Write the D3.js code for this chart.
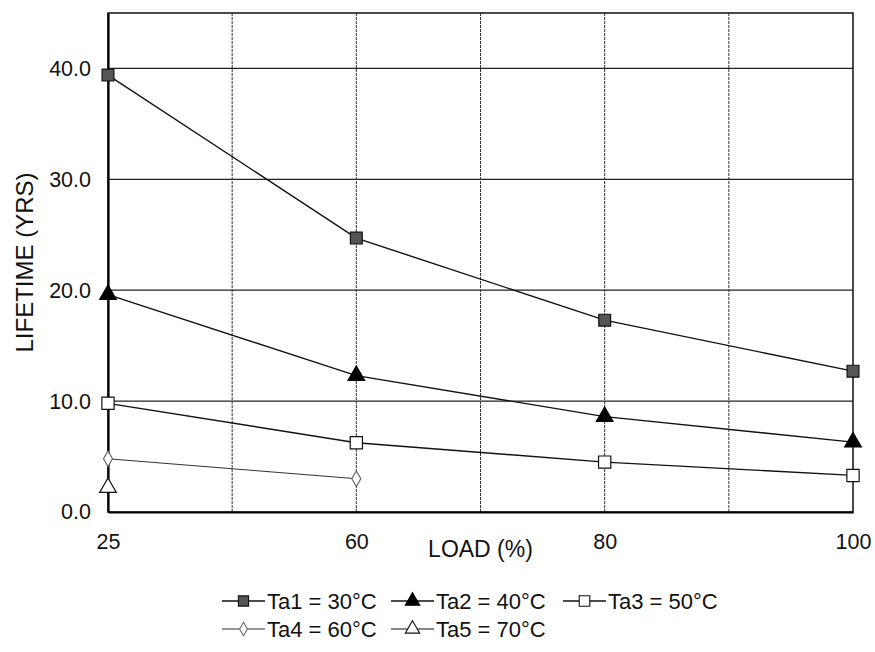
<!DOCTYPE html>
<html>
<head>
<meta charset="utf-8">
<script src="https://cdn.jsdelivr.net/npm/d3@7"></script>
<style>
  body { margin: 0; background: #fff; }
  svg { display: block; font-family: Arial, "Liberation Sans", sans-serif; }
</style>
</head>
<body>
<script>
// Chart data
var loads  = ["25", "60", "80", "100"];
var yTicks = [0, 10, 20, 30, 40];
var seriesNames = ["Ta1 = 30\u00b0C", "Ta2 = 40\u00b0C", "Ta3 = 50\u00b0C", "Ta4 = 60\u00b0C", "Ta5 = 70\u00b0C"];
var ta1 = [39.4, 24.7, 17.3, 12.7];
var ta2 = [19.6, 12.3, 8.6, 6.3];
var ta3 = [9.8, 6.25, 4.5, 3.3];
var ta4 = [4.8, 3.0, null, null];
var ta5 = [2.2, null, null, null];

var W = 875, H = 652;
var plot = { left: 108, right: 853, top: 13, bottom: 512 };

var svg = d3.select("body").append("svg").attr("width", W).attr("height", H);

var x = d3.scalePoint().domain(loads).range([plot.left, plot.right]);
var y = d3.scaleLinear().domain([0, 45]).range([plot.bottom, plot.top]);

// Grid: horizontal at ticks, vertical at categories and halfway between them
var grid = svg.append("g");
grid.selectAll("line.h").data(yTicks.filter(function(d){ return d > 0; }))
  .enter().append("line")
  .attr("x1", plot.left).attr("x2", plot.right)
  .attr("y1", function(d){ return y(d); }).attr("y2", function(d){ return y(d); })
  .attr("stroke", "#222").attr("stroke-width", 1.2);

var vLines = [];
loads.forEach(function(c, i){
  if(i > 0) vLines.push((x(loads[i-1]) + x(c)) / 2);
  if(i > 0 && i < loads.length - 1) vLines.push(x(c));
});
grid.selectAll("line.v").data(vLines)
  .enter().append("line")
  .attr("x1", function(d){ return d; }).attr("x2", function(d){ return d; })
  .attr("y1", plot.top).attr("y2", plot.bottom)
  .attr("stroke", "#333").attr("stroke-width", 1).attr("stroke-dasharray", "3,1");

// Frame
svg.append("rect")
  .attr("x", plot.left).attr("y", plot.top)
  .attr("width", plot.right - plot.left).attr("height", plot.bottom - plot.top)
  .attr("fill", "none").attr("stroke", "#111").attr("stroke-width", 1.5);

// Axes
var yAxis = svg.append("g").attr("transform", "translate(" + plot.left + ",0)")
  .call(d3.axisLeft(y).tickValues(yTicks).tickFormat(d3.format(".1f")).tickSize(0).tickPadding(17));
var xAxis = svg.append("g").attr("transform", "translate(0," + plot.bottom + ")")
  .call(d3.axisBottom(x).tickSize(0).tickPadding(22));
[xAxis, yAxis].forEach(function(a){
  a.select(".domain").attr("stroke", "#000").attr("stroke-width", 2.2);
  a.selectAll("text").attr("font-size", 21.5).attr("fill", "#111")
    .attr("font-family", "Arial, 'Liberation Sans', sans-serif");
});

// Axis titles
svg.append("text").attr("x", x.range()[0] + (plot.right - plot.left) / 2).attr("y", 557)
  .attr("text-anchor", "middle").attr("font-size", 23).attr("fill", "#111").text("LOAD (%)");
svg.append("text").attr("transform", "translate(33," + ((plot.top + plot.bottom) / 2) + ") rotate(-90)")
  .attr("text-anchor", "middle").attr("font-size", 24).attr("fill", "#111").text("LIFETIME (YRS)");

// Markers
var symbols = [
  { type: d3.symbolSquare,   size: 140, fill: "#555", stroke: "#111", line: "#111", lw: 1.4 },
  { type: d3.symbolTriangle, size: 120, fill: "#000", stroke: "#000", line: "#111", lw: 1.4 },
  { type: d3.symbolSquare,   size: 150, fill: "#fff", stroke: "#111", line: "#111", lw: 1.4 },
  { type: d3.symbolDiamond,  size: 70,  fill: "#fff", stroke: "#666", line: "#333", lw: 1 },
  { type: d3.symbolTriangle, size: 120, fill: "#fff", stroke: "#111", line: "#111", lw: 1.2 }
];
var allSeries = [ta1, ta2, ta3, ta4, ta5];

var line = d3.line()
  .defined(function(d){ return d != null; })
  .x(function(d, i){ return x(loads[i]); })
  .y(function(d){ return y(d); });

allSeries.forEach(function(vals, s){
  var sym = symbols[s];
  var g = svg.append("g");
  g.append("path").attr("d", line(vals)).attr("fill", "none")
    .attr("stroke", sym.line).attr("stroke-width", sym.lw);
  g.selectAll("path.m").data(vals.map(function(v, i){ return { v: v, i: i }; })
      .filter(function(d){ return d.v != null; }))
    .enter().append("path")
    .attr("transform", function(d){ return "translate(" + x(loads[d.i]) + "," + y(d.v) + ")"; })
    .attr("d", d3.symbol().type(sym.type).size(sym.size))
    .attr("fill", sym.fill).attr("stroke", sym.stroke).attr("stroke-width", 1.2);
});

// Legend
var legend = svg.append("g");
var colX = [222, 391, 563], rowY = [601, 629];
seriesNames.forEach(function(name, i){
  var sym = symbols[i];
  var lx = colX[i % 3], ly = rowY[Math.floor(i / 3)];
  var item = legend.append("g").attr("transform", "translate(" + lx + "," + ly + ")");
  item.append("line").attr("x1", 0).attr("x2", 43).attr("y1", 0).attr("y2", 0)
    .attr("stroke", sym.line).attr("stroke-width", sym.lw);
  item.append("path").attr("transform", "translate(21.5,0)")
    .attr("d", d3.symbol().type(sym.type).size(sym.size * 0.75))
    .attr("fill", sym.fill).attr("stroke", sym.stroke).attr("stroke-width", 1.1);
  item.append("text").attr("x", 45).attr("y", 0).attr("dy", "0.35em")
    .attr("font-size", 22).attr("fill", "#111").text(name);
});
</script>
</body>
</html>
